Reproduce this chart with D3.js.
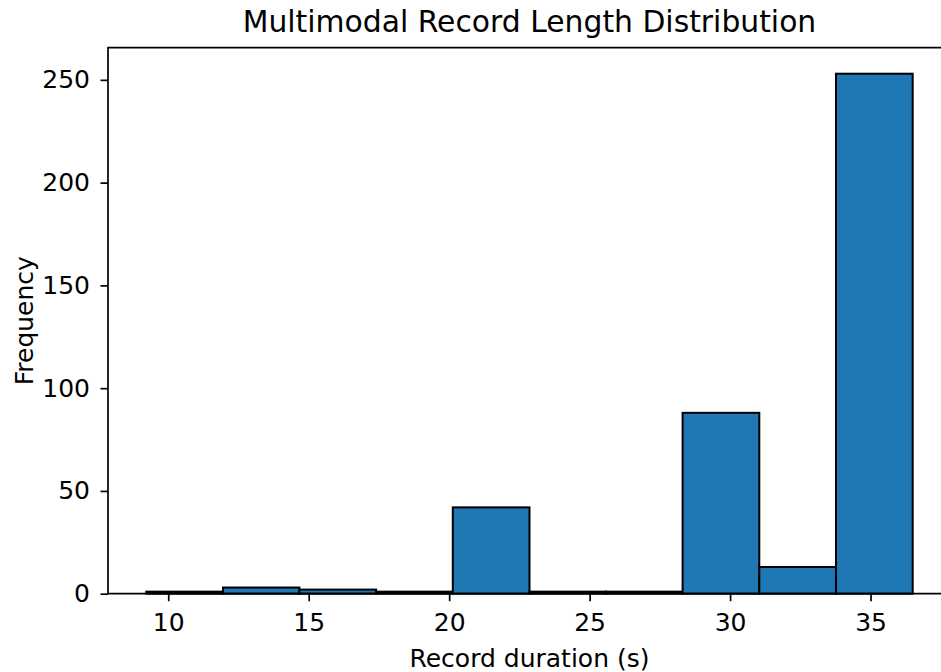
<!DOCTYPE html>
<html>
<head>
<meta charset="utf-8">
<script src="https://cdn.jsdelivr.net/npm/d3@7"></script>
<style>
  body { margin: 0; background: #fff; }
  svg { display: block; font-family: "DejaVu Sans", sans-serif; }
</style>
</head>
<body>
<svg id="svgMain" width="941" height="672"></svg>
<script>
// histogram bins
const binEdges = [9.22, 11.95, 14.67, 17.40, 20.13, 22.86, 25.59, 28.31, 31.04, 33.77, 36.50];
const binCounts = [1, 3, 2, 1, 42, 1, 1, 88, 13, 253];
const xTicks = [10, 15, 20, 25, 30, 35];
const yTicks = [0, 50, 100, 150, 200, 250];

let svgMain = d3.select("#svgMain");
const plot = { left: 108, right: 951, top: 47.7, bottom: 593.7 };

const bins = binCounts.map((c, i) => ({ x0: binEdges[i], x1: binEdges[i + 1], count: c }));

// matplotlib style 5% margins
const xPad = (binEdges[binEdges.length - 1] - binEdges[0]) * 0.05;
const xScale = d3.scaleLinear()
    .domain([binEdges[0] - xPad, binEdges[binEdges.length - 1] + xPad])
    .range([plot.left, plot.right]);

const yScale = d3.scaleLinear()
    .domain([0, d3.max(binCounts) * 1.05])
    .range([plot.bottom, plot.top]);

// bars
svgMain.append("g").selectAll("rect")
    .data(bins)
    .enter().append("rect")
    .attr("x", d => xScale(d.x0))
    .attr("y", d => yScale(d.count))
    .attr("width", d => xScale(d.x1) - xScale(d.x0))
    .attr("height", d => yScale(0) - yScale(d.count))
    .style("fill", "#1f77b4")
    .style("stroke", "#000")
    .style("stroke-width", "2px");

// spines
svgMain.append("path")
    .attr("d", `M${plot.left},${plot.bottom}V${plot.top}H${plot.right}V${plot.bottom}Z`)
    .style("fill", "none")
    .style("stroke", "#000")
    .style("stroke-width", "1.7px");

// axes
let xAxis = d3.axisBottom(xScale).tickValues(xTicks).tickSize(7.5).tickPadding(12).tickFormat(d3.format("d"));
svgMain.append("g")
    .attr("class", "x axis")
    .attr("transform", "translate(0," + plot.bottom + ")")
    .call(xAxis)
    .call(g => g.select(".domain").remove());

let yAxis = d3.axisLeft(yScale).tickValues(yTicks).tickSize(7.5).tickPadding(10.5).tickFormat(d3.format("d"));
svgMain.append("g")
    .attr("class", "y axis")
    .attr("transform", "translate(" + plot.left + ",0)")
    .call(yAxis)
    .call(g => g.select(".domain").remove());

svgMain.selectAll(".axis line").style("stroke", "#000").style("stroke-width", "1.7px");
svgMain.selectAll(".axis text")
    .style("font-family", "DejaVu Sans")
    .style("font-size", "25px")
    .style("fill", "#000");

// title
svgMain.append("text")
    .attr("x", (plot.left + plot.right) / 2)
    .attr("y", 31.5)
    .attr("font-size", "29.8px")
    .attr("text-anchor", "middle")
    .text("Multimodal Record Length Distribution");

// x label
svgMain.append("text")
    .attr("x", (plot.left + plot.right) / 2)
    .attr("y", 667)
    .attr("font-size", "25px")
    .attr("text-anchor", "middle")
    .text("Record duration (s)");

// y label
svgMain.append("text")
    .attr("x", -(plot.top + plot.bottom) / 2)
    .attr("y", 33)
    .attr("font-size", "25px")
    .attr("text-anchor", "middle")
    .attr("transform", "rotate(-90)")
    .text("Frequency");
</script>
</body>
</html>
